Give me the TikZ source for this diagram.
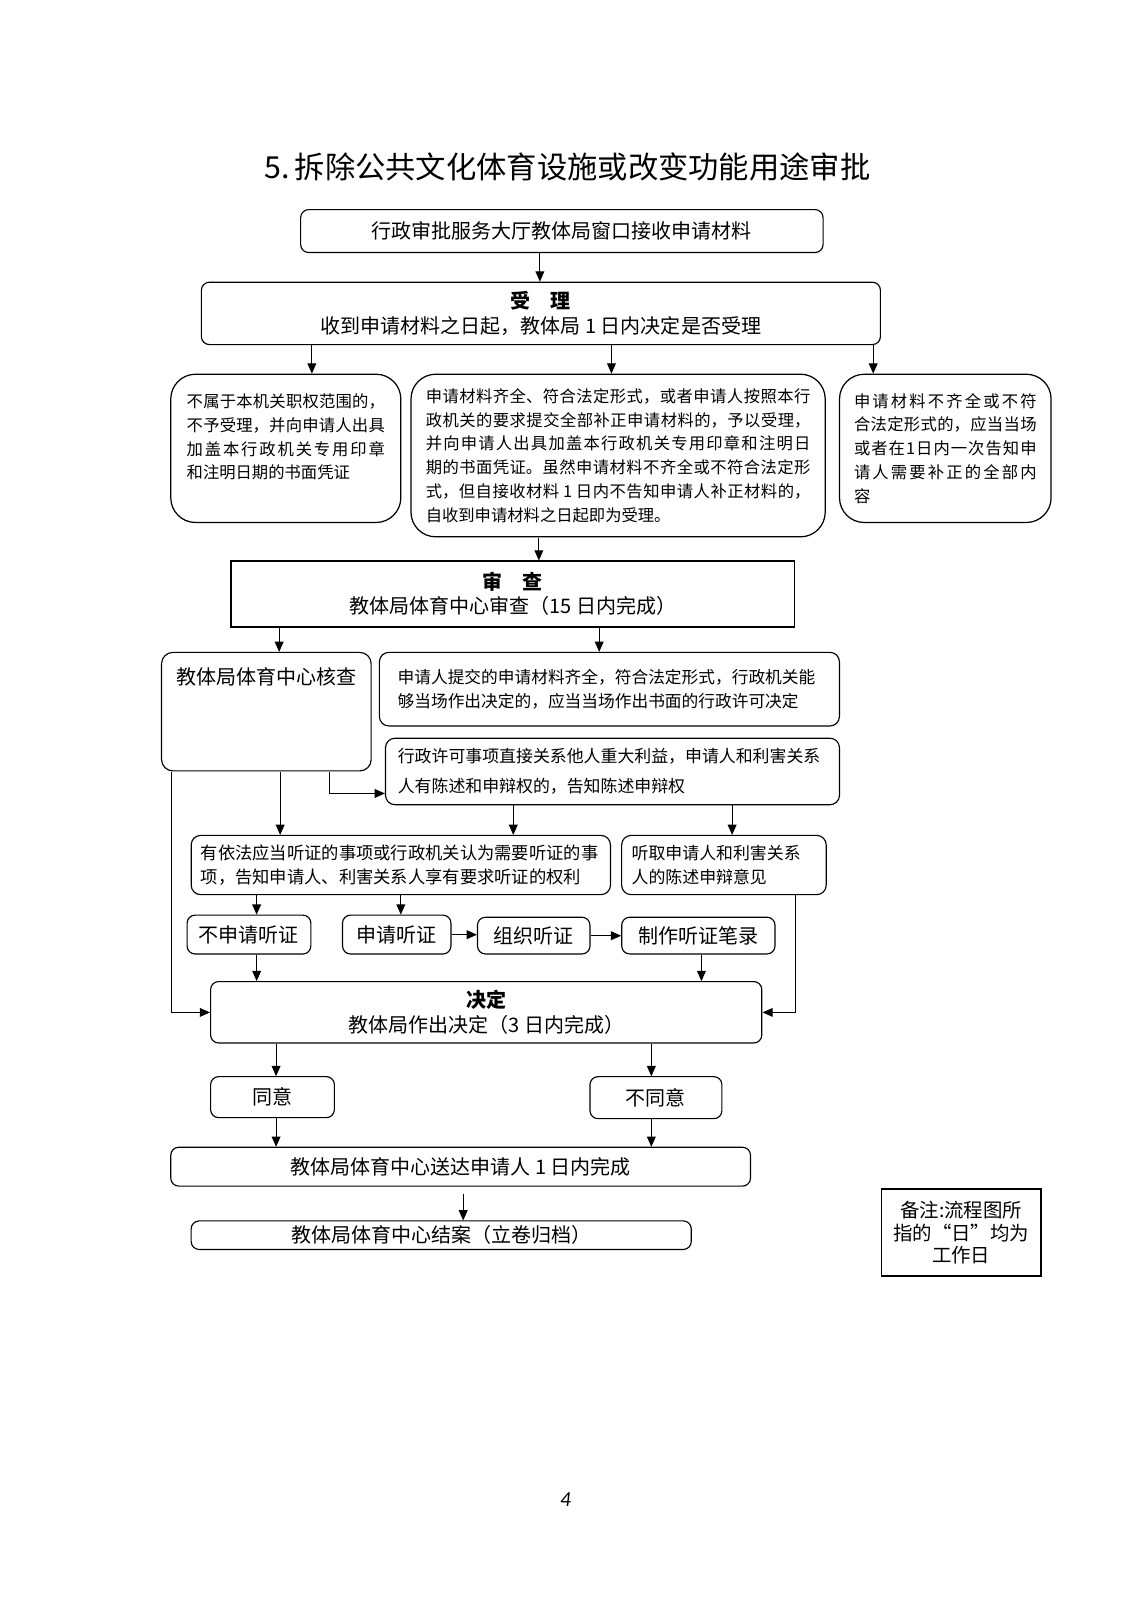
\documentclass[tikz,border=0pt]{standalone}
\usepackage{fontspec}
\setmainfont{Noto Sans CJK SC}
\newfontfamily\pagefont{Carlito}
\XeTeXlinebreaklocale "zh"
\XeTeXlinebreakskip=0pt plus 3pt
\usetikzlibrary{arrows.meta}
\tikzset{
  flowbox/.style={draw, rounded corners=4.2pt, line width=0.6pt, inner sep=2pt,
    font=\fontsize{10.3}{12.6}\selectfont},
  textbox/.style={draw, rounded corners=5pt, line width=0.6pt, inner sep=2pt,
    font=\fontsize{8.6}{12.1}\selectfont, align=left},
  roundbox/.style={draw, rounded corners=13pt, line width=0.65pt, inner sep=2pt,
    font=\fontsize{8.4}{12.2}\selectfont, align=justify},
  squarebox/.style={draw, line width=0.9pt, inner sep=2pt,
    font=\fontsize{10.3}{12.3}\selectfont, align=center},
  arr/.style={-{Triangle[length=5.4pt,width=4.6pt]}, line width=0.6pt}
}

\begin{document}
\begin{tikzpicture}[x=0.5263pt, y=-0.5263pt, scale=1.0225, every node/.style={transform shape}]
  \useasboundingbox (0,0) rectangle (1106.1,1564.8);

  \node[font=\fontsize{15.6}{18}\selectfont] (title) at (555,163) {5.\,拆除公共文化体育设施或改变功能用途审批};

  \node[flowbox, minimum width=268.9pt, minimum height=22.1pt] (window) at (549.5,226) {行政审批服务大厅教体局窗口接收申请材料};
  \node[flowbox, minimum width=349.5pt, minimum height=32.1pt, align=center] (accept) at (529,306.5)
    {\textbf{受　理}\\收到申请材料之日起，教体局 1 日内决定是否受理};

  \node[roundbox, minimum width=118.4pt, minimum height=76.3pt, text width=102pt] (reject) at (279.5,438.5)
    {不属于本机关职权范围的，\linebreak 不予受理，并向申请人出具\linebreak 加盖本行政机关专用印章\linebreak 和注明日期的书面凭证\par\mbox{}};
  \node[roundbox, minimum width=213.2pt, minimum height=83.7pt, text width=198pt] (admit) at (604.5,445.5)
    {申请材料齐全、符合法定形式，或者申请人按照本行\linebreak 政机关的要求提交全部补正申请材料的，予以受理，\linebreak 并向申请人出具加盖本行政机关专用印章和注明日\linebreak 期的书面凭证。虽然申请材料不齐全或不符合法定形\linebreak 式，但自接收材料 1 日内不告知申请人补正材料的，\linebreak 自收到申请材料之日起即为受理。};
  \node[roundbox, minimum width=108.9pt, minimum height=76.3pt, text width=94pt] (amend) at (924.5,438.5)
    {申请材料不齐全或不符\linebreak 合法定形式的，应当当场\linebreak 或者在1日内一次告知申\linebreak 请人需要补正的全部内\linebreak 容};

  \node[squarebox, minimum width=290pt, minimum height=33.7pt] (review) at (501.5,581)
    {\textbf{审　查}\\教体局体育中心审查（15 日内完成）};

  \node[flowbox, rounded corners=6pt, minimum width=107.9pt, inner sep=0pt, text height=16.5pt, text depth=44.5pt] (check) at (260.5,696) {教体局体育中心核查};
  \node[textbox, minimum width=236.8pt, minimum height=37.9pt, text width=218pt] (spot) at (596,674)
    {申请人提交的申请材料齐全，符合法定形式，行政机关能\\够当场作出决定的，应当当场作出书面的行政许可决定};
  \node[textbox, minimum width=233.7pt, minimum height=34.2pt, text width=221pt, font=\fontsize{8.7}{15.3}\selectfont] (plead) at (599,754.5)
    {行政许可事项直接关系他人重大利益，申请人和利害关系\\人有陈述和申辩权的，告知陈述申辩权};

  \node[textbox, minimum width=215.8pt, minimum height=30.5pt, text width=206pt, font=\fontsize{8.9}{12.1}\selectfont] (hear) at (392,846)
    {有依法应当听证的事项或行政机关认为需要听证的事\\项，告知申请人、利害关系人享有要求听证的权利};
  \node[textbox, minimum width=105.3pt, minimum height=30.5pt, text width=95pt, font=\fontsize{8.7}{12.1}\selectfont] (listen) at (708,846)
    {听取申请人和利害关系\\人的陈述申辩意见};

  \node[flowbox, minimum width=63.7pt, minimum height=20pt] (nohear) at (243.5,914) {不申请听证};
  \node[flowbox, minimum width=55.8pt, minimum height=20pt] (askhear) at (388,914) {申请听证};
  \node[flowbox, minimum width=57.9pt, minimum height=18.9pt] (hold) at (522,915) {组织听证};
  \node[flowbox, minimum width=78.9pt, minimum height=18.9pt] (record) at (683,915) {制作听证笔录};

  \node[flowbox, minimum width=283.7pt, minimum height=31.6pt, align=center] (decide) at (475.5,990)
    {\textbf{决定}\\教体局作出决定（3 日内完成）};

  \node[flowbox, minimum width=63.7pt, minimum height=21.1pt] (agree) at (266.5,1073) {同意};
  \node[flowbox, minimum width=67.9pt, minimum height=21.6pt] (refuse) at (641.5,1073.5) {不同意};

  \node[flowbox, minimum width=298.4pt, minimum height=20pt] (deliver) at (450.5,1141) {教体局体育中心送达申请人 1 日内完成};
  \node[flowbox, minimum width=257.4pt, minimum height=14.7pt, inner ysep=1pt] (close) at (431.5,1208) {教体局体育中心结案（立卷归档）};

  \node[squarebox, line width=0.75pt, minimum width=82.1pt, minimum height=44.7pt, font=\fontsize{10}{11.8}\selectfont] (note) at (940,1205.5)
    {备注:流程图所\\指的“日”均为\\工作日};

  \node[font=\pagefont\itshape\fontsize{11}{13}\selectfont] (page) at (553,1467) {4};

  % connectors
  \draw[arr] (528,0 |- window.south) -- (528,0 |- accept.north);
  \draw[arr] (305,0 |- accept.south) -- (305,0 |- reject.north);
  \draw[arr] (598,0 |- accept.south) -- (598,0 |- admit.north);
  \draw[arr] (854,0 |- accept.south) -- (854,0 |- amend.north);
  \draw[arr] (527,0 |- admit.south) -- (527,0 |- review.north);
  \draw[arr] (273,0 |- review.south) -- (273,0 |- check.north);
  \draw[arr] (586,0 |- review.south) -- (586,0 |- spot.north);
  \draw[arr] (322,0 |- check.south) |- (plead.west |- 0,776);
  \draw[arr] (274,0 |- check.south) -- (274,0 |- hear.north);
  \draw[arr] (168,0 |- check.south) |- (decide.west);
  \draw[arr] (502,0 |- plead.south) -- (502,0 |- hear.north);
  \draw[arr] (716,0 |- plead.south) -- (716,0 |- listen.north);
  \draw[arr] (251,0 |- hear.south) -- (251,0 |- nohear.north);
  \draw[arr] (392,0 |- hear.south) -- (392,0 |- askhear.north);
  \draw[arr] (askhear.east) -- (hold.west |- askhear.east);
  \draw[arr] (hold.east) -- (record.west);
  \draw[arr] (251,0 |- nohear.south) -- (251,0 |- decide.north);
  \draw[arr] (686,0 |- record.south) -- (686,0 |- decide.north);
  \draw[arr] (778,0 |- listen.south) |- (decide.east);
  \draw[arr] (270,0 |- decide.south) -- (270,0 |- agree.north);
  \draw[arr] (637,0 |- decide.south) -- (637,0 |- refuse.north);
  \draw[arr] (270,0 |- agree.south) -- (270,0 |- deliver.north);
  \draw[arr] (637,0 |- refuse.south) -- (637,0 |- deliver.north);
  \draw[arr, shorten <=3.5pt] (453,0 |- deliver.south) -- (453,0 |- close.north);
\end{tikzpicture}
\end{document}
